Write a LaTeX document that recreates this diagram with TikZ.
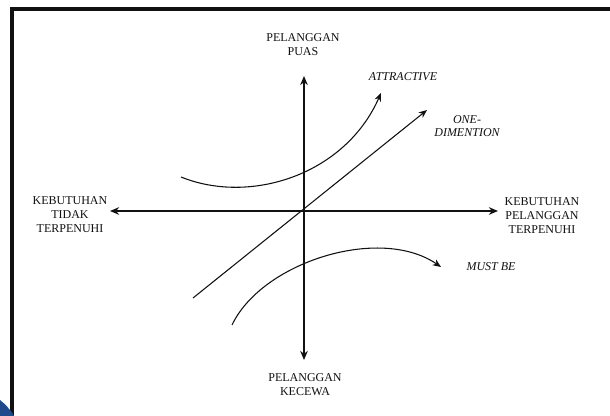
\documentclass[tikz,border=0pt]{standalone}
\usepackage{fontspec}
\setmainfont{Liberation Serif}
\usetikzlibrary{arrows.meta,positioning,calc}
\definecolor{ink}{HTML}{111111}
\definecolor{edge}{HTML}{1F4A8C}
\tikzset{
  axis/.style={ink,line width=1.6pt,{Stealth[length=2.4mm,width=2mm]}-{Stealth[length=2.4mm,width=2mm]}},
  curve/.style={ink,line width=0.8pt,-{Stealth[length=2.2mm,width=1.8mm]}},
  lbl/.style={font=\fontsize{9}{10.5}\selectfont,align=center,inner sep=0pt,text=ink},
  ilbl/.style={lbl,font=\fontsize{9}{10}\selectfont\itshape},
}
\begin{document}
\begin{tikzpicture}[x=0.75pt,y=-0.75pt]
  \useasboundingbox (0,0) rectangle (610,416);
  \fill[white] (0,0) rectangle (610,416);
  % frame of the screenshot
  \draw[ink,line width=2.4pt] (12,416) -- (12,9) -- (612,9);
  \fill[edge] (0,400) .. controls (5,404) and (10,409) .. (14,416) -- (0,416) -- cycle;
  \coordinate (O) at (304,211);
  \coordinate (top) at (304,76);
  \coordinate (bot) at (304,360);
  \coordinate (lft) at (110,211);
  \coordinate (rgt) at (498,211);
  \draw[axis] (bot) -- (top);
  \draw[axis] (lft) -- (rgt);
  % the three curves
  \coordinate (attA) at (181,177);
  \coordinate (attB) at (381,93);
  \draw[curve] (attA) .. controls (250,205) and (345,175) .. (attB);
  \coordinate (oneA) at (193,298);
  \coordinate (oneB) at (427,110);
  \draw[curve] (oneA) -- (oneB);
  \coordinate (musA) at (232,325);
  \coordinate (musB) at (441,267);
  \draw[curve] (musA) .. controls (262,262) and (380,225) .. (musB);
  % labels
  \node[lbl] (puas) at (303,45) {PELANGGAN\\PUAS};
  \node[lbl] (kecewa) at (305,385) {PELANGGAN\\KECEWA};
  \node[lbl] (tidak) at (70,215) {KEBUTUHAN\\TIDAK\\TERPENUHI};
  \node[lbl] (penuh) at (542,216) {KEBUTUHAN\\PELANGGAN\\TERPENUHI};
  \node[ilbl] (attr) at (403,77) {ATTRACTIVE};
  \node[ilbl] (onedim) at (467,126) {ONE-\\DIMENTION};
  \node[ilbl] (must) at (491,267) {MUST BE};
\end{tikzpicture}
\end{document}
